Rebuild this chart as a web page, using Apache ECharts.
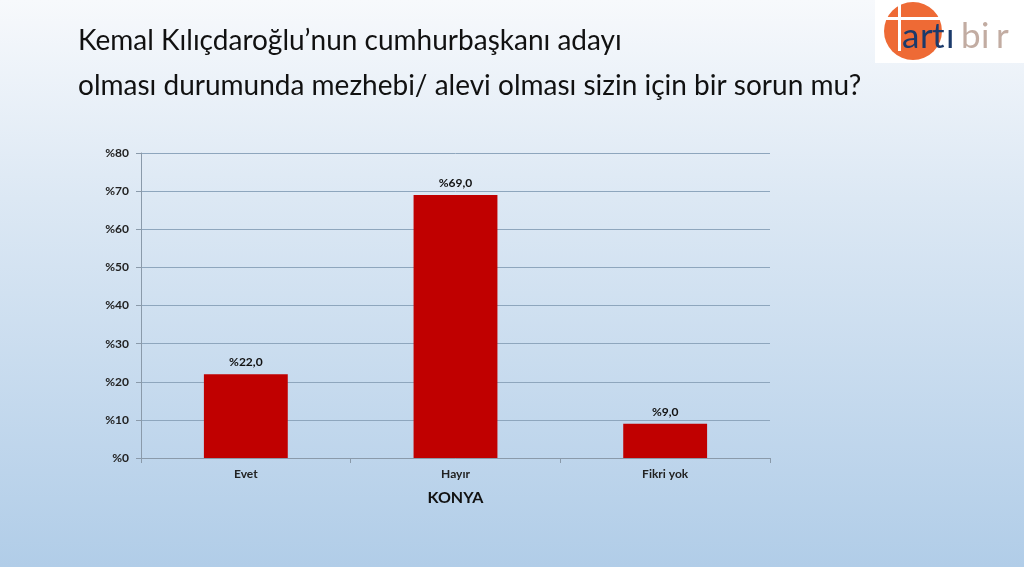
<!DOCTYPE html>
<html>
<head>
<meta charset="utf-8">
<script src="https://cdn.jsdelivr.net/npm/echarts@6/dist/echarts.min.js"></script>
<style>
html, body { margin: 0; padding: 0; }
#main { width: 1024px; height: 567px; }
</style>
</head>
<body>
<div id="main"></div>
<script>
// veriler
var categories = ['Evet', 'Hayır', 'Fikri yok'];
var values = [22.0, 69.0, 9.0];
var titleLines = ['Kemal Kılıçdaroğlu’nun cumhurbaşkanı adayı', 'olması durumunda mezhebi/ alevi olması sizin için bir sorun mu?'];
var axisName = 'KONYA';

// logo harfleri (tek tek, aralıklı)
var logoLetters = [
    ['a', 902, '#1b3a6b'], ['r', 920, '#1b3a6b'], ['t', 932, '#1b3a6b'], ['ı', 946, '#1b3a6b'],
    ['b', 961, '#c2aca2'], ['i', 981, '#c2aca2'], ['r', 996, '#c2aca2']
];
var logo = [
    {type: 'rect', shape: {x: 875, y: 0, width: 149, height: 63}, style: {fill: '#fff'}},
    {type: 'circle', shape: {cx: 913, cy: 31, r: 29}, style: {fill: '#ee6a35'}},
    {type: 'rect', shape: {x: 898, y: 3, width: 3, height: 48}, style: {fill: '#fff'}},
    {type: 'rect', shape: {x: 884, y: 17, width: 58, height: 3}, style: {fill: '#fff'}}
];
logoLetters.forEach(function (l) {
    logo.push({type: 'text', x: l[1], y: 54, style: {text: l[0], fontSize: 35, fontFamily: 'Lato', fill: l[2], textVerticalAlign: 'bottom'}});
});

var myChart = echarts.init(document.getElementById('main'));
myChart.setOption({
    backgroundColor: {
        type: 'linear', x: 0, y: 0, x2: 0, y2: 1,
        colorStops: [
            {offset: 0, color: '#f7f9fc'},
            {offset: 0.35, color: '#dce8f4'},
            {offset: 1, color: '#b1cde8'}
        ]
    },
    textStyle: {fontFamily: 'Lato'},
    graphic: [
        {type: 'text', left: 78, top: 27, style: {text: titleLines[0], fontSize: 28, fontFamily: 'Lato', fill: '#111'}},
        {type: 'text', left: 78, top: 72, style: {text: titleLines[1], fontSize: 28, fontFamily: 'Lato', fill: '#111'}}
    ].concat(logo),
    grid: {left: 141, right: 254, top: 153, bottom: 109},
    xAxis: {
        type: 'category',
        data: categories,
        name: axisName,
        nameLocation: 'middle',
        nameGap: 32,
        nameTextStyle: {fontSize: 16, fontWeight: 'bold', color: '#111'},
        axisLine: {lineStyle: {color: '#8a9aaa'}},
        axisTick: {show: true, length: 5, lineStyle: {color: '#8a9aaa'}},
        axisLabel: {fontSize: 12, fontWeight: 'bold', color: '#222', margin: 10}
    },
    yAxis: {
        type: 'value',
        min: 0,
        max: 80,
        interval: 10,
        axisLine: {show: true, lineStyle: {color: '#8a9aaa'}},
        axisTick: {show: true, length: 5, lineStyle: {color: '#8a9aaa'}},
        axisLabel: {fontSize: 12, fontWeight: 'bold', color: '#222', margin: 12,
            formatter: function (v) { return '%' + v; }},
        splitLine: {lineStyle: {color: '#8ea6bd'}}
    },
    series: [{
        type: 'bar',
        data: values,
        barWidth: '40%',
        itemStyle: {color: '#c00000'},
        label: {
            show: true,
            position: 'top',
            distance: 6,
            fontSize: 12,
            fontWeight: 'bold',
            color: '#111',
            formatter: function (p) { return '%' + p.value.toFixed(1).replace('.', ','); }
        }
    }]
});
</script>
</body>
</html>
